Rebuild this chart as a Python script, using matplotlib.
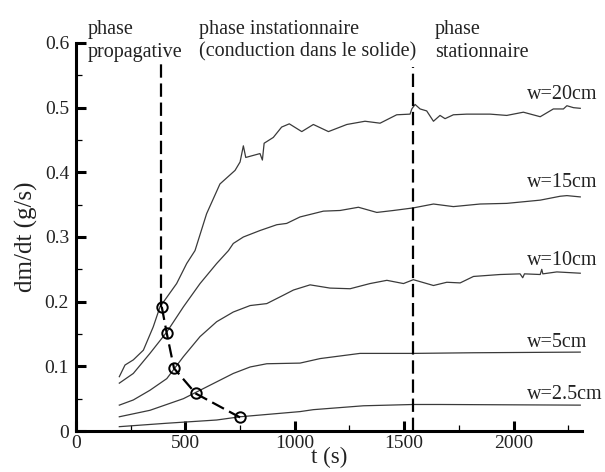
import matplotlib
matplotlib.use("Agg")
import matplotlib.pyplot as plt
from matplotlib.ticker import MultipleLocator, FuncFormatter

plt.rcParams['font.family'] = ['Liberation Serif', 'DejaVu Serif']
plt.rcParams['mathtext.fontset'] = 'stix'

# ---- data ----
w20_t = [198, 224, 262, 308, 353, 384, 460, 506, 544, 597, 658, 727, 750, 765, 776,
         841, 852, 860, 902, 940, 975, 1032, 1085, 1154, 1238, 1321, 1390, 1466, 1527,
         1535, 1550, 1573, 1603, 1634, 1664, 1687, 1725, 1786, 1847, 1893, 1969, 2045,
         2122, 2182, 2228, 2244, 2274, 2305]
w20_v = [0.084, 0.102, 0.110, 0.125, 0.161, 0.192, 0.228, 0.259, 0.279, 0.336, 0.382,
         0.403, 0.416, 0.441, 0.423, 0.429, 0.419, 0.445, 0.454, 0.470, 0.475, 0.463,
         0.474, 0.463, 0.474, 0.479, 0.476, 0.489, 0.490, 0.498, 0.505, 0.498, 0.495,
         0.479, 0.488, 0.483, 0.489, 0.490, 0.490, 0.490, 0.488, 0.493, 0.486, 0.498,
         0.498, 0.503, 0.500, 0.499]

w15_t = [198, 262, 338, 415, 491, 567, 643, 697, 719, 765, 841, 918, 963, 1024, 1131,
         1207, 1291, 1375, 1451, 1542, 1634, 1725, 1786, 1847, 1969, 2122, 2213, 2244, 2305]
w15_v = [0.074, 0.089, 0.120, 0.153, 0.192, 0.228, 0.259, 0.279, 0.290, 0.300, 0.310,
         0.319, 0.321, 0.331, 0.340, 0.341, 0.346, 0.338, 0.341, 0.345, 0.351, 0.347,
         0.349, 0.351, 0.352, 0.357, 0.363, 0.364, 0.362]

w10_t = [198, 262, 338, 415, 491, 567, 643, 719, 796, 872, 948, 994, 1070, 1161, 1253,
         1344, 1421, 1497, 1542, 1634, 1695, 1756, 1817, 1939, 2030, 2042, 2050, 2122,
         2129, 2134, 2198, 2305]
w10_v = [0.040, 0.048, 0.063, 0.081, 0.115, 0.146, 0.169, 0.184, 0.194, 0.197, 0.210,
         0.218, 0.226, 0.221, 0.220, 0.228, 0.233, 0.228, 0.234, 0.225, 0.230, 0.229,
         0.239, 0.242, 0.243, 0.237, 0.243, 0.242, 0.250, 0.243, 0.246, 0.244]

w5_t = [198, 338, 491, 567, 643, 719, 796, 872, 1024, 1116, 1298, 1542, 1817, 2305]
w5_v = [0.022, 0.032, 0.050, 0.063, 0.076, 0.089, 0.099, 0.104, 0.105, 0.112, 0.120,
        0.120, 0.121, 0.122]

w25_t = [198, 415, 643, 750, 1024, 1085, 1314, 1542, 1664, 2305]
w25_v = [0.0067, 0.012, 0.017, 0.022, 0.030, 0.033, 0.039, 0.041, 0.041, 0.040]

front_t = [392, 415, 448, 547, 750]
front_v = [0.192, 0.151, 0.097, 0.058, 0.021]

series_labels = ["w=20cm", "w=15cm", "w=10cm", "w=5cm", "w=2.5cm"]
label_t = 2062
label_v = [0.514, 0.377, 0.256, 0.130, 0.050]

phase1_t = 388
phase2_t = 1542

# ---- figure ----
fig = plt.figure(figsize=(6.05, 4.72), dpi=100)
ax = fig.add_axes([76/605, 1-431/472, (582-76)/605, (431-43)/472])

curve_kw = dict(color='#3a3a3a', lw=0.9)
for t, v in [(w20_t, w20_v), (w15_t, w15_v), (w10_t, w10_v), (w5_t, w5_v), (w25_t, w25_v)]:
    ax.plot(t, v, **curve_kw)

dash = (0, (6, 2.6))
ax.plot([phase1_t, phase1_t], [front_v[0], 0.571], color='black', lw=1.6, linestyle=dash)
ax.plot([phase2_t, phase2_t], [0.0, 0.563], color='black', lw=1.6, linestyle=dash)
ax.plot(front_t, front_v, color='black', lw=1.6, linestyle=dash,
        marker='o', markersize=7.5, markerfacecolor='none', markeredgecolor='black',
        markeredgewidth=1.4)

text_color = '#222222'
for lab, v in zip(series_labels, label_v):
    ax.text(label_t, v, lab, fontsize=14.5, va='baseline', ha='left', color=text_color)

# phase annotations
tk = dict(fontsize=14.5, va='baseline', ha='left', clip_on=False, color=text_color)
ax.text(55, 0.614, "phase", **tk)
ax.text(55, 0.579, "propagative", **tk)
ax.text(563, 0.614, "phase instationnaire", **tk)
ax.text(563, 0.579, "(conduction dans le solide)", **tk)
ax.text(1641, 0.614, "phase", **tk)
ax.text(1641, 0.579, "stationnaire", **tk)

ax.set_xlim(0, 2313)
ax.set_ylim(0, 0.6)
ax.xaxis.set_major_locator(MultipleLocator(500))
ax.xaxis.set_minor_locator(MultipleLocator(250))
ax.yaxis.set_major_locator(MultipleLocator(0.1))
ax.yaxis.set_minor_locator(MultipleLocator(0.05))
ax.yaxis.set_major_formatter(FuncFormatter(lambda v, p: "0" if abs(v) < 1e-9 else f"{v:.1f}"))
ax.xaxis.set_major_formatter(FuncFormatter(lambda v, p: f"{int(round(v))}"))

for s in ['top', 'right']:
    ax.spines[s].set_visible(False)
for s in ['left', 'bottom']:
    ax.spines[s].set_linewidth(2.2)

ax.tick_params(which='major', direction='in', length=7, width=2.2, labelsize=14, pad=5,
               labelcolor=text_color)
ax.tick_params(which='minor', direction='in', length=4, width=0.9)
ax.tick_params(axis='x', which='major', pad=3)

ax.set_xlabel("t (s)", fontsize=16.5, labelpad=-3.5, color=text_color)
ax.set_ylabel("dm/dt (g/s)", fontsize=18, labelpad=5, color=text_color)

fig.savefig("out.png", dpi=100)
